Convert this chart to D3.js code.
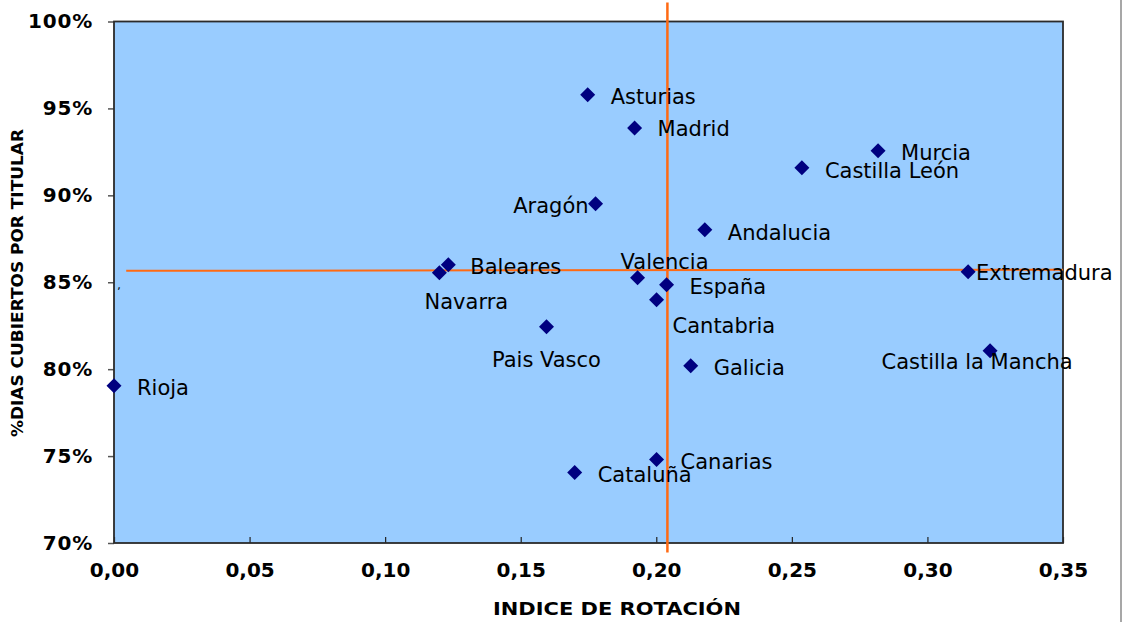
<!DOCTYPE html>
<html>
<head>
<meta charset="utf-8">
<script src="https://cdn.jsdelivr.net/npm/d3@7"></script>
<style>
  body { margin: 0; background: #fff; }
  svg text { font-family: "DejaVu Sans", Verdana, sans-serif; }
  .tick text { font-weight: bold; font-size: 20px; fill: #000; }
  .axis-title { font-weight: bold; fill: #000; }
  .pt-label { font-size: 21px; fill: #000; }
</style>
</head>
<body>
<div id="container"></div>
<script>
// data
var regions = ["Asturias", "Madrid", "Murcia", "Castilla León", "Aragón", "Andalucia",
  "Baleares", "Navarra", "Valencia", "España", "Extremadura", "Cantabria",
  "Pais Vasco", "Castilla la Mancha", "Galicia", "Rioja", "Canarias", "Cataluña"];
var rotacion = [0.1747, 0.192, 0.2818, 0.2537, 0.1776, 0.2179,
  0.1233, 0.120, 0.1931, 0.2038, 0.315, 0.2001,
  0.1595, 0.3231, 0.2127, 0.000, 0.2001, 0.1699];
var diasCubiertos = [95.78, 93.88, 92.56, 91.58, 89.51, 88.02,
  86.01, 85.55, 85.26, 84.86, 85.60, 83.99,
  82.44, 81.06, 80.20, 79.05, 74.80, 74.05];
var xTicks = [0, 0.05, 0.10, 0.15, 0.20, 0.25, 0.30, 0.35];
var yTicks = [70, 75, 80, 85, 90, 95, 100];
// reference (average) lines drawn on the chart
var refVertical = { x: 0.2041, y1: 101.09, y2: 69.45 };
var refHorizontal = { x1: 0.0045, x2: 0.35, y1: 85.66, y2: 85.72 };

// label placement next to each marker: dx, dy, anchor
var labelPos = {
  "Asturias": [23, 2, "start"], "Madrid": [23, 1, "start"], "Murcia": [23, 2, "start"],
  "Castilla León": [23, 3, "start"], "Aragón": [-7, 2, "end"], "Andalucia": [23, 3, "start"],
  "Baleares": [22, 2, "start"], "Navarra": [27, 29, "middle"], "Valencia": [27, -16, "middle"],
  "España": [23, 2, "start"], "Extremadura": [8, 1, "start"], "Cantabria": [16, 26, "start"],
  "Pais Vasco": [0, 33, "middle"], "Castilla la Mancha": [-13, 11, "middle"],
  "Galicia": [23, 2, "start"], "Rioja": [23, 2, "start"], "Canarias": [24, 2, "start"],
  "Cataluña": [23, 2, "start"]
};

var margin = {top: 21.5, right: 60, bottom: 79, left: 114},
    width = 1123 - margin.left - margin.right,
    height = 622 - margin.top - margin.bottom;

var root = d3.select("#container")
  .append("svg")
    .attr("width", 1123)
    .attr("height", 622);

// thin frame line on the right edge
root.append("line")
    .attr("x1", 1121).attr("x2", 1121)
    .attr("y1", 0).attr("y2", 622)
    .attr("stroke", "#8a8a8a")
    .attr("stroke-width", 1.5);

var svg = root.append("g")
    .attr("transform", "translate(" + margin.left + "," + margin.top + ")");

var x = d3.scaleLinear().domain([0, 0.35]).range([0, width]);
var y = d3.scaleLinear().domain([70, 100]).range([height, 0]);

var points = regions.map(function(r, i) {
  return {name: r, x: rotacion[i], y: diasCubiertos[i]};
});

// plot background
svg.append("rect")
    .attr("width", width)
    .attr("height", height)
    .attr("fill", "#99ccff");

// y axis (outer ticks)
var yAxis = svg.append("g")
    .attr("class", "axis")
    .call(d3.axisLeft(y).tickValues(yTicks).tickSize(6).tickPadding(15)
      .tickFormat(function(d) { return d + "%"; }));
yAxis.select(".domain").remove();
yAxis.selectAll(".tick line").attr("stroke", "#555").attr("stroke-width", 1.5);
yAxis.selectAll(".tick text").style("letter-spacing", "0.8px");

// x axis (inner ticks)
var xAxis = svg.append("g")
    .attr("class", "axis")
    .attr("transform", "translate(0," + height + ")")
    .call(d3.axisBottom(x).tickValues(xTicks).tickSize(-6).tickPadding(16)
      .tickFormat(function(d) { return d3.format(".2f")(d).replace(".", ","); }));
xAxis.select(".domain").remove();
xAxis.selectAll(".tick line").attr("stroke", "#222").attr("stroke-width", 1.2);
xAxis.selectAll(".tick text").attr("dy", "0.9em");

// plot border
svg.append("rect")
    .attr("width", width)
    .attr("height", height)
    .attr("fill", "none")
    .attr("stroke", "#2b2b2b")
    .attr("stroke-width", 1.8);

// orange reference lines
svg.append("line")
    .attr("x1", x(refHorizontal.x1)).attr("x2", x(refHorizontal.x2))
    .attr("y1", y(refHorizontal.y1)).attr("y2", y(refHorizontal.y2))
    .attr("stroke", "#ff6a13").attr("stroke-width", 2);
svg.append("line")
    .attr("x1", x(refVertical.x)).attr("x2", x(refVertical.x))
    .attr("y1", y(refVertical.y1)).attr("y2", y(refVertical.y2))
    .attr("stroke", "#ff6a13").attr("stroke-width", 2.5);

// markers
var diamond = "M0,-7.5L7.5,0L0,7.5L-7.5,0Z";
svg.selectAll(".pt")
    .data(points)
    .enter().append("path")
    .attr("class", "pt")
    .attr("d", diamond)
    .attr("transform", function(d) { return "translate(" + x(d.x) + "," + y(d.y) + ")"; })
    .attr("fill", "#000080");

// labels
svg.selectAll(".pt-label")
    .data(points)
    .enter().append("text")
    .attr("class", "pt-label")
    .attr("x", function(d) { return x(d.x) + labelPos[d.name][0]; })
    .attr("y", function(d) { return y(d.y) + labelPos[d.name][1]; })
    .attr("dy", "0.36em")
    .attr("text-anchor", function(d) { return labelPos[d.name][2]; })
    .text(function(d) { return d.name; });

// stray mark near the left edge
svg.append("text")
    .attr("x", 3).attr("y", y(84.2))
    .attr("font-size", 12)
    .text("ʼ");

// axis titles
svg.append("text")
    .attr("class", "axis-title")
    .attr("x", 617 - margin.left)
    .attr("y", height + 72)
    .attr("text-anchor", "middle")
    .attr("textLength", 248)
    .attr("lengthAdjust", "spacingAndGlyphs")
    .style("font-size", "17px")
    .text("INDICE DE ROTACIÓN");

svg.append("text")
    .attr("class", "axis-title")
    .attr("transform", "translate(" + (-margin.left + 23) + "," + (283 - margin.top) + ") rotate(-90)")
    .attr("text-anchor", "middle")
    .attr("textLength", 308)
    .attr("lengthAdjust", "spacingAndGlyphs")
    .style("font-size", "15.5px")
    .text("%DIAS CUBIERTOS POR TITULAR");
</script>
</body>
</html>
